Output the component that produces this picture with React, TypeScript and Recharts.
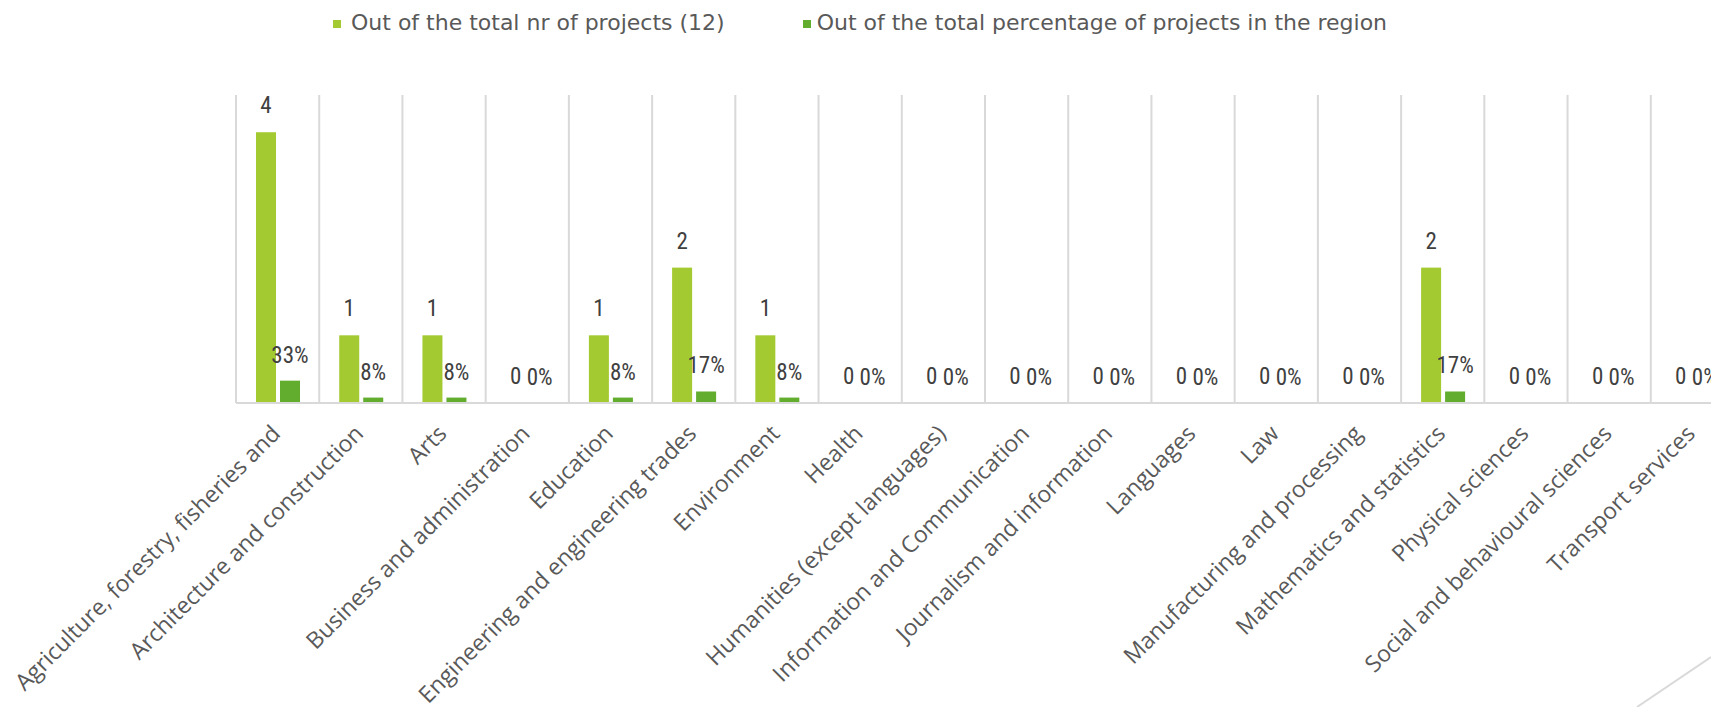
import React from "react";
import { BarChart, Bar, XAxis, YAxis, CartesianGrid, LabelList } from "recharts";

const categories = [
  "Agriculture, forestry, fisheries and",
  "Architecture and construction",
  "Arts",
  "Business and administration",
  "Education",
  "Engineering and engineering trades",
  "Environment",
  "Health",
  "Humanities (except languages)",
  "Information and Communication",
  "Journalism and information",
  "Languages",
  "Law",
  "Manufacturing and processing",
  "Mathematics and statistics",
  "Physical sciences",
  "Social and behavioural sciences",
  "Transport services",
];
const projectCounts = [4, 1, 1, 0, 1, 2, 1, 0, 0, 0, 0, 0, 0, 0, 2, 0, 0, 0];
const projectShares = [0.33, 0.08, 0.08, 0, 0.08, 0.17, 0.08, 0, 0, 0, 0, 0, 0, 0, 0.17, 0, 0, 0];
const seriesNames = ["Out of the total nr of projects (12)", "Out of the total percentage of projects in the region"];
const seriesColors = ["#A3CA31", "#62AC2E"];

const data = categories.map((c, i) => ({ name: c, count: projectCounts[i], share: projectShares[i] }));

const labelFont = "'Liberation Sans Narrow', 'Roboto Condensed', Roboto, sans-serif";

const Tick = (props: any) => {
  const { x, y, payload } = props;
  const ax = x + 4;
  const ay = y + 32;
  return (
    <text x={ax} y={ay} transform={`rotate(-45, ${ax}, ${ay})`} textAnchor="end" fill="#595959" fontSize={23} fontFamily="Open Sans">
      {payload.value}
    </text>
  );
};

const BarShape = (props: any) => {
  const { x, y, width, height, fill } = props;
  if (!(height > 0.9)) return <g />;
  return <rect x={x} y={y} width={width} height={height} fill={fill} />;
};

const LegendBox = () => (
  <div style={{ position: "absolute", top: 10, left: 0, display: "flex", fontFamily: "DejaVu Sans", fontSize: 22, color: "#595959", whiteSpace: "nowrap" }}>
    {seriesNames.map((n, i) => (
      <div key={n} style={{ display: "flex", alignItems: "center", marginLeft: i === 0 ? 333 : 78 }}>
        <span style={{ display: "inline-block", width: 8, height: 8, background: seriesColors[i], marginRight: i === 0 ? 10 : 6, marginTop: 2 }} />
        <span>{n}</span>
      </div>
    ))}
  </div>
);

export default function App() {
  const n = categories.length;
  return (
    <div style={{ position: "fixed", left: 0, top: 0, width: 1711, height: 707, overflow: "hidden", background: "#fff" }}>
      <BarChart
        width={1740}
        height={707}
        data={data}
        margin={{ top: 95, right: 6, bottom: 0, left: 236 }}
        barSize={20}
        barGap={4}
      >
        <CartesianGrid
          horizontal={false}
          stroke="#d9d9d9"
          strokeWidth={2}
          verticalCoordinatesGenerator={({ offset }: any) =>
            Array.from({ length: n + 1 }, (_, i) => offset.left + (i * offset.width) / n)
          }
        />
        <XAxis
          dataKey="name"
          interval={0}
          tickLine={false}
          tickSize={0}
          tickMargin={0}
          axisLine={{ stroke: "#d9d9d9", strokeWidth: 2 }}
          tick={<Tick />}
          height={304}
        />
        <YAxis hide domain={[0, 4.55]} />
        <Bar dataKey="count" fill={seriesColors[0]} isAnimationActive={false} minPointSize={0.5} shape={<BarShape />}>
          <LabelList dataKey="count" position="top" offset={19} fill="#404040" fontSize={23} fontFamily={labelFont} />
        </Bar>
        <Bar dataKey="share" fill={seriesColors[1]} isAnimationActive={false} minPointSize={0.5} shape={<BarShape />}>
          <LabelList
            dataKey="share"
            position="top"
            offset={18}
            fill="#404040"
            fontSize={23}
            fontFamily={labelFont}
            formatter={(v: any) => `${Math.round(Number(v) * 100)}%`}
          />
        </Bar>
      </BarChart>
      <LegendBox />
      <svg style={{ position: "absolute", left: 0, top: 0 }} width={1711} height={707}>
        <line x1={1711} y1={657} x2={1637} y2={707} stroke="#d9d9d9" strokeWidth={2} />
      </svg>
    </div>
  );
}
